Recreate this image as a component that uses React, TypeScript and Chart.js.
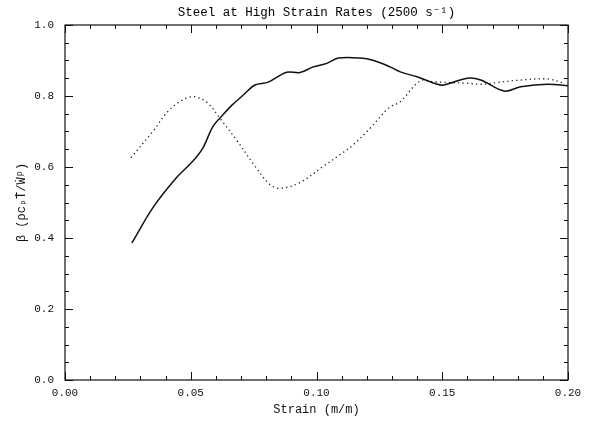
import React, { useEffect, useRef } from "react";
import { Chart, registerables } from "chart.js";

Chart.register(...registerables);

const titleText = "Steel at High Strain Rates (2500 s\u207B\u00B9)";
const xTitle = "Strain (m/m)";
const yTitle = "\u03B2 (\u03C1c\u209A\u1E6A/\u1E86\u1D56)";

const solidX = [0.0266, 0.0349, 0.0442, 0.0508, 0.0548, 0.0588, 0.0628, 0.0665, 0.0708, 0.0755, 0.0808, 0.0881, 0.0934, 0.0987, 0.1041, 0.1087, 0.1174, 0.1227, 0.1293, 0.1333, 0.14, 0.148, 0.1506, 0.16, 0.1653, 0.1746, 0.1812, 0.1919, 0.2];
const solidY = [0.386, 0.485, 0.569, 0.616, 0.653, 0.714, 0.747, 0.775, 0.802, 0.831, 0.839, 0.867, 0.866, 0.882, 0.892, 0.907, 0.907, 0.9, 0.882, 0.868, 0.854, 0.833, 0.831, 0.85, 0.845, 0.814, 0.826, 0.833, 0.829];

const dottedX = [0.0262, 0.0349, 0.0415, 0.0482, 0.0522, 0.0568, 0.0615, 0.0681, 0.0761, 0.0814, 0.0854, 0.0934, 0.1027, 0.1094, 0.1147, 0.1214, 0.1287, 0.1333, 0.1413, 0.1466, 0.152, 0.16, 0.1653, 0.1719, 0.1812, 0.1919, 0.1985];
const dottedY = [0.626, 0.7, 0.761, 0.794, 0.797, 0.78, 0.738, 0.677, 0.597, 0.551, 0.54, 0.556, 0.602, 0.635, 0.663, 0.71, 0.766, 0.784, 0.843, 0.84, 0.838, 0.836, 0.833, 0.838, 0.845, 0.848, 0.836];

const xMajor = [0, 0.05, 0.1, 0.15, 0.2];
const yMajor = [0, 0.2, 0.4, 0.6, 0.8, 1.0];
const xMinorStep = 0.01;
const yMinorStep = 0.05;

const FONT = "'Liberation Mono', 'DejaVu Sans Mono', monospace";

const framePlugin = {
  id: "idlFrame",
  afterDatasetsDraw(chart: any) {
    const { ctx, chartArea, scales } = chart;
    const { left, right, top, bottom } = chartArea;
    ctx.save();
    ctx.strokeStyle = "#111";
    ctx.lineWidth = 1.2;
    ctx.strokeRect(left, top, right - left, bottom - top);
    ctx.lineWidth = 1;
    const xs = scales.x;
    const ys = scales.y;
    const isMajor = (v: number, arr: number[]) => arr.some((m) => Math.abs(m - v) < 1e-6);
    for (let i = 0; i <= 20; i++) {
      const v = i * xMinorStep;
      const px = Math.round(xs.getPixelForValue(v)) + 0.5;
      const len = isMajor(v, xMajor) ? 8 : 4;
      ctx.beginPath();
      ctx.moveTo(px, bottom);
      ctx.lineTo(px, bottom - len);
      ctx.moveTo(px, top);
      ctx.lineTo(px, top + len);
      ctx.stroke();
    }
    for (let i = 0; i <= 20; i++) {
      const v = i * yMinorStep;
      const py = Math.round(ys.getPixelForValue(v)) + 0.5;
      const len = isMajor(v, yMajor) ? 8 : 4;
      ctx.beginPath();
      ctx.moveTo(left, py);
      ctx.lineTo(left + len, py);
      ctx.moveTo(right, py);
      ctx.lineTo(right - len, py);
      ctx.stroke();
    }
    ctx.restore();
  },
};

export default function App() {
  const ref = useRef<HTMLCanvasElement | null>(null);
  useEffect(() => {
    if (!ref.current) return;
    const chart = new Chart(ref.current, {
      type: "scatter",
      data: {
        datasets: [
          {
            data: solidX.map((x, i) => ({ x, y: solidY[i] })),
            showLine: true,
            borderColor: "#111",
            borderWidth: 1.5,
            pointRadius: 0,
            tension: 0.35,
          },
          {
            data: dottedX.map((x, i) => ({ x, y: dottedY[i] })),
            showLine: true,
            borderColor: "#222",
            borderWidth: 1.3,
            borderDash: [1.3, 3.2],
            pointRadius: 0,
            tension: 0.35,
          },
        ],
      },
      options: {
        responsive: false,
        animation: false,
        layout: { padding: { left: 0, right: 24, top: 0, bottom: 0 } },
        plugins: {
          legend: { display: false },
          tooltip: { enabled: false },
          title: {
            display: true,
            fullSize: false,
            text: titleText,
            color: "#000",
            font: { family: FONT, size: 12.5, weight: "normal" },
            padding: { top: 5, bottom: 5 },
          },
        },
        scales: {
          x: {
            type: "linear",
            min: 0,
            max: 0.2,
            border: { display: false },
            grid: { display: false, drawTicks: false },
            afterBuildTicks: (s: any) => {
              s.ticks = xMajor.map((v) => ({ value: v }));
            },
            afterFit: (s: any) => {
              s.height = 43;
            },
            ticks: {
              color: "#111",
              padding: 6,
              font: { family: FONT, size: 11 },
              callback: (v: any) => Number(v).toFixed(2),
              maxRotation: 0,
            },
            title: {
              display: true,
              text: xTitle,
              color: "#111",
              font: { family: FONT, size: 12 },
              padding: { top: 0, bottom: 6 },
            },
          },
          y: {
            type: "linear",
            min: 0,
            max: 1.0,
            border: { display: false },
            grid: { display: false, drawTicks: false },
            afterBuildTicks: (s: any) => {
              s.ticks = yMajor.map((v) => ({ value: v }));
            },
            afterFit: (s: any) => {
              s.width = 65;
            },
            ticks: {
              color: "#111",
              padding: 11,
              font: { family: FONT, size: 11 },
              callback: (v: any) => Number(v).toFixed(1),
            },
            title: {
              display: true,
              text: yTitle,
              color: "#111",
              font: { family: FONT, size: 12 },
              padding: { top: 15, bottom: 0 },
            },
          },
        },
      },
      plugins: [framePlugin],
    } as any);
    return () => chart.destroy();
  }, []);
  return (
    <div style={{ position: "fixed", left: 0, top: 0, width: 592, height: 423, background: "#fff" }}>
      <canvas ref={ref} width={592} height={423} style={{ width: 592, height: 423, display: "block" }} />
    </div>
  );
}
